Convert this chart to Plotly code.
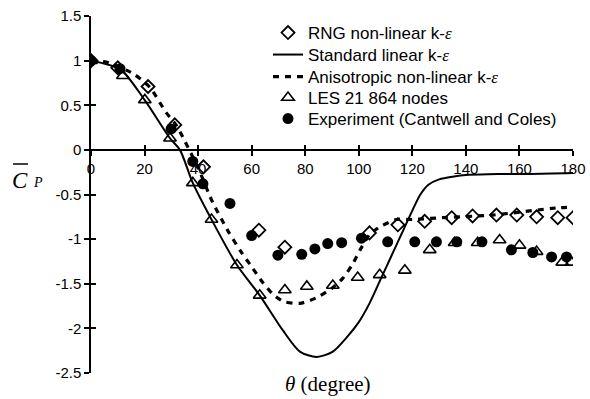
import plotly.graph_objects as go

# ---------------- data ----------------
exp_x = [0, 10.8, 29.9, 38, 41.8, 51.9, 60, 69.8, 78.7, 83.6, 88.4, 93.6, 101, 110.8, 120.9, 129, 136.6, 146, 157, 165, 172, 177.6]
exp_y = [1.0, 0.91, 0.235, -0.13, -0.38, -0.6, -0.96, -1.18, -1.17, -1.11, -1.05, -1.04, -0.99, -1.03, -1.03, -1.03, -1.03, -1.03, -1.12, -1.15, -1.2, -1.2]

rng_x = [0, 10, 21.3, 31.3, 42, 62.7, 72.4, 104, 114.6, 124.6, 134.7, 142.5, 151.4, 159, 166.4, 174.3, 180]
rng_y = [1.0, 0.92, 0.71, 0.28, -0.19, -0.9, -1.09, -0.93, -0.84, -0.8, -0.76, -0.74, -0.73, -0.73, -0.75, -0.76, -0.76]

les_x = [0, 11.9, 20.1, 29.5, 38, 45, 54.5, 63, 72.4, 80.6, 90.3, 99.6, 107.8, 117.2, 126.5, 135.8, 144.4, 152.6, 160, 166.4, 176, 179.5]
les_y = [1.0, 0.83, 0.56, 0.13, -0.37, -0.78, -1.29, -1.63, -1.57, -1.53, -1.52, -1.43, -1.4, -1.35, -1.12, -1.04, -1.04, -1.01, -1.07, -1.14, -1.26, -1.26]

std_x = [0, 11, 20, 29.5, 33.2, 38, 45, 54.5, 63, 71.6, 78, 84.3, 90.3, 95.5, 100, 104, 108, 112, 116, 120, 123, 126, 130, 135, 141, 152, 164, 180]
std_y = [1.0, 0.9, 0.56, 0.13, 0.0, -0.37, -0.78, -1.29, -1.63, -2.02, -2.26, -2.32, -2.26, -2.1, -1.93, -1.72, -1.46, -1.2, -0.94, -0.68, -0.5, -0.39, -0.33, -0.30, -0.28, -0.27, -0.27, -0.26]

ani_x = [0, 6, 16, 22, 28, 32, 35, 40, 45, 51, 56, 60, 64, 68, 72, 78, 84, 90, 94, 97.5, 100.5, 104, 108, 114, 120, 131, 150, 174, 180]
ani_y = [1.0, 0.98, 0.85, 0.7, 0.42, 0.27, 0.1, -0.2, -0.56, -0.9, -1.14, -1.31, -1.48, -1.62, -1.7, -1.72, -1.66, -1.55, -1.44, -1.29, -1.12, -0.95, -0.86, -0.78, -0.78, -0.76, -0.73, -0.65, -0.64]

x_ticks = [0, 20, 40, 60, 80, 100, 120, 140, 160, 180]
y_ticks = [-2.5, -2, -1.5, -1, -0.5, 0, 0.5, 1, 1.5]
y_ticklabels = ["-2.5", "-2", "-1.5", "-1", "-0.5", "0", "0.5", "1", "1.5"]

names = [
    "RNG non-linear k-<span style='font-family:Liberation Serif'><i>ε</i></span>",
    "Standard linear k-<span style='font-family:Liberation Serif'><i>ε</i></span>",
    "Anisotropic non-linear k-<span style='font-family:Liberation Serif'><i>ε</i></span>",
    "LES 21 864 nodes",
    "Experiment (Cantwell and Coles)",
]

fig = go.Figure()
fig.add_trace(go.Scatter(x=std_x, y=std_y, mode="lines", name=names[1], legend="legend2",
                         line=dict(color="black", width=2, shape="spline", smoothing=0.8)))
fig.add_trace(go.Scatter(x=ani_x, y=ani_y, mode="lines", name=names[2], legend="legend3",
                         line=dict(color="black", width=3.2, dash="6px,6px", shape="spline", smoothing=0.6)))
fig.add_trace(go.Scatter(x=rng_x, y=rng_y, mode="markers", name=names[0], legend="legend",
                         marker=dict(symbol="diamond-open", size=10, color="black", line=dict(width=1.8))))
fig.add_trace(go.Scatter(x=les_x, y=les_y, mode="markers", name=names[3], legend="legend4",
                         marker=dict(symbol="triangle-up-open", size=11, color="black", line=dict(width=1.6))))
fig.add_trace(go.Scatter(x=exp_x, y=exp_y, mode="markers", name=names[4], legend="legend5",
                         marker=dict(symbol="circle", size=11, color="black")))
# helper trace for the second (inside-tick) axes
fig.add_trace(go.Scatter(x=[0], y=[0], xaxis="x2", yaxis="y2", mode="markers",
                         marker=dict(opacity=0), showlegend=False, hoverinfo="skip"))

L, R, T, B = 91, 17, 16, 26
W, H = 590, 399
pw, ph = W - L - R, H - T - B


def px2paper_x(px):
    return (px - L) / pw


def py2paper_y(py):
    return (H - B - py) / ph


legend_rows = [33, 55, 77, 98, 119]
common_leg = dict(x=px2paper_x(268), xanchor="left", yanchor="middle", bgcolor="rgba(0,0,0,0)",
                  font=dict(family="Liberation Sans", size=17, color="black"), borderwidth=0)
layout_legends = {}
for i, py in enumerate(legend_rows):
    key = "legend" if i == 0 else f"legend{i + 1}"
    layout_legends[key] = dict(common_leg, y=py2paper_y(py))

xpos = (0 - (-2.5)) / 4.0
axis_common = dict(showgrid=False, zeroline=False, showline=True, linecolor="black", linewidth=1.5,
                   tickcolor="black", tickwidth=1.5, ticklen=5, automargin=False)

fig.update_layout(
    width=W, height=H,
    margin=dict(l=L, r=R, t=T, b=B, autoexpand=False),
    paper_bgcolor="white", plot_bgcolor="white",
    font=dict(family="Liberation Sans", size=15, color="black"),
    xaxis=dict(axis_common, range=[0, 180], tickvals=x_ticks, ticks="outside", anchor="free",
               position=xpos, tickfont=dict(size=15)),
    yaxis=dict(axis_common, range=[-2.5, 1.5], tickvals=y_ticks, ticktext=y_ticklabels, ticks="outside",
               tickfont=dict(size=15)),
    xaxis2=dict(showgrid=False, zeroline=False, showline=False, range=[0, 180], tickvals=x_ticks,
                ticks="inside", ticklen=5, tickwidth=1.5, tickcolor="black", showticklabels=False,
                overlaying="x", anchor="free", position=xpos, automargin=False),
    yaxis2=dict(showgrid=False, zeroline=False, showline=False, range=[-2.5, 1.5], tickvals=y_ticks,
                ticks="inside", ticklen=5, tickwidth=1.5, tickcolor="black", showticklabels=False,
                overlaying="y", anchor="x", automargin=False),
    annotations=[
        dict(text="<i>θ</i> (degree)", xref="paper", yref="paper", x=px2paper_x(328), y=py2paper_y(384),
             xanchor="center", yanchor="middle", showarrow=False,
             font=dict(family="Liberation Serif", size=21, color="black")),
        dict(text="<i>C</i>", xref="paper", yref="paper", x=px2paper_x(20), y=py2paper_y(180),
             xanchor="center", yanchor="middle", showarrow=False,
             font=dict(family="Liberation Serif", size=23, color="black")),
        dict(text="<i>P</i>", xref="paper", yref="paper", x=px2paper_x(38), y=py2paper_y(182),
             xanchor="center", yanchor="middle", showarrow=False,
             font=dict(family="Liberation Serif", size=14, color="black")),
    ],
    shapes=[
        dict(type="line", xref="paper", yref="paper", x0=px2paper_x(13), x1=px2paper_x(28),
             y0=py2paper_y(164), y1=py2paper_y(164), line=dict(color="black", width=1.5)),
    ],
    **layout_legends,
)

fig.write_html("out.html", config={"displayModeBar": False},
               post_script="document.body.style.margin='0px';document.body.style.overflow='hidden';")
